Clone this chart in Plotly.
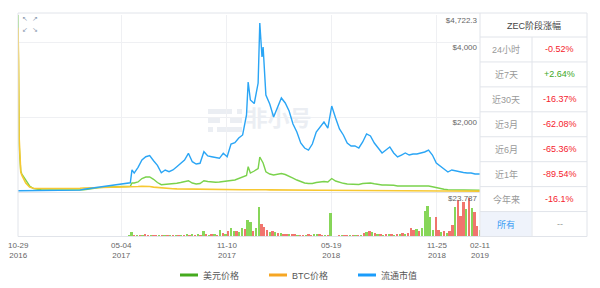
import pandas as pd
import plotly.graph_objects as go

# ---------------- data ----------------
START, END = "2016-10-29", "2019-02-11"

# day offsets (from START) of the line samples
line_days = ([0, 1, 2, 3, 4, 5, 7] + list(range(14, 204, 7)) + [206] + list(range(210, 414, 7))
             + [416, 420, 427, 434, 437, 441, 443] + list(range(448, 834, 7)) + [835])

usd_price = [
    4722.3, 2000, 1300, 1000, 650, 560, 480, 300, 160, 90,
    67, 59, 53, 53, 50, 50, 50, 48, 47, 45,
    48, 55, 62, 70, 90, 110, 118, 125, 125, 128,
    133, 140, 145, 147, 152, 240, 240, 267, 360, 400,
    400, 339, 253, 195, 200, 213, 227, 232, 253, 280,
    301, 240, 213, 227, 301, 280, 267, 259, 267, 275,
    293, 307, 320, 360, 387, 440, 675, 507, 560, 627,
    933, 800, 773, 540, 480, 453, 467, 493, 467, 427,
    373, 320, 280, 240, 227, 227, 253, 267, 280, 267,
    360, 293, 253, 232, 213, 205, 205, 200, 227, 240,
    240, 219, 200, 187, 187, 192, 179, 160, 160, 165,
    160, 160, 160, 160, 160, 160, 141, 112, 85, 72,
    59, 59, 53, 53, 52, 50, 50, 48, 48, 48,
]

btc_price = [
    3.71, 2.98, 1.24, 0.95, 0.54, 0.45, 0.38, 0.20, 0.11, 0.085,
    0.08, 0.08, 0.078, 0.075, 0.075, 0.072, 0.07, 0.07, 0.072, 0.075,
    0.08, 0.085, 0.09, 0.095, 0.10, 0.105, 0.107, 0.108, 0.108, 0.108,
    0.11, 0.11, 0.11, 0.11, 0.11, 0.12, 0.12, 0.125, 0.13, 0.13,
    0.125, 0.11, 0.10, 0.09, 0.085, 0.08, 0.075, 0.07, 0.068, 0.065,
    0.062, 0.06, 0.058, 0.056, 0.055, 0.054, 0.053, 0.052, 0.05, 0.05,
    0.05, 0.05, 0.05, 0.05, 0.05, 0.052, 0.053, 0.05, 0.05, 0.052,
    0.056, 0.054, 0.054, 0.05, 0.048, 0.046, 0.046, 0.047, 0.046, 0.045,
    0.044, 0.043, 0.042, 0.042, 0.041, 0.041, 0.041, 0.04, 0.04, 0.04,
    0.041, 0.04, 0.039, 0.038, 0.037, 0.036, 0.035, 0.035, 0.035, 0.034,
    0.034, 0.033, 0.032, 0.031, 0.031, 0.03, 0.03, 0.03, 0.029, 0.029,
    0.029, 0.028, 0.028, 0.028, 0.028, 0.028, 0.027, 0.026, 0.025, 0.024,
    0.023, 0.022, 0.022, 0.021, 0.021, 0.02, 0.02, 0.02, 0.02, 0.02,
]

market_cap = [  # USD million
    20, 20, 20, 21, 21, 21, 22, 22, 23, 23,
    23, 24, 24, 24, 25, 25, 25, 26, 27, 28,
    29, 30, 43, 51, 63, 76, 82, 90, 95, 103,
    111, 122, 130, 138, 146, 350, 300, 391, 506, 558,
    575, 495, 422, 305, 348, 321, 348, 400, 454, 506,
    612, 479, 443, 454, 638, 570, 558, 549, 533, 612,
    558, 760, 780, 854, 902, 1218, 1740, 1455, 1400, 1724,
    2674, 2136, 2294, 1535, 1392, 1187, 1329, 1487, 1408, 1281,
    1076, 949, 775, 696, 664, 759, 949, 1028, 1107, 1012,
    1360, 1171, 997, 902, 775, 728, 728, 696, 791, 918,
    886, 775, 696, 617, 664, 712, 617, 554, 585, 617,
    585, 601, 601, 617, 633, 664, 585, 459, 411, 364,
    316, 348, 332, 316, 308, 301, 301, 285, 285, 285,
]

vol_step_days = 5
volume = [
    0.15, 0.1, 0.08, 0.1, 0.08, 0.07, 0.08, 0.06, 0.07, 0.06,
    0.06, 0.05, 0.06, 0.05, 0.06, 0.05, 0.06, 0.07, 0.06, 0.08,
    0.1, 0.12, 0.1, 0.15, 0.2, 0.25, 0.3, 0.4, 0.35, 0.5,
    0.3, 0.4, 0.35, 0.3, 0.4, 0.45, 0.35, 0.5, 0.4, 0.45,
    0.6, 2.7, 1.2, 1.0, 1.3, 1.1, 1.4, 1.2, 0.9, 1.1,
    0.9, 0.8, 1.0, 0.9, 0.8, 1.0, 0.9, 1.2, 1.1, 1.3,
    1.0, 1.8, 1.2, 1.4, 1.3, 1.5, 1.2, 3.3, 1.5, 1.3,
    1.4, 1.6, 1.3, 4.0, 2.0, 1.8, 3.1, 4.6, 3.5, 3.1,
    2.8, 5.0, 4.2, 9.0, 8.2, 3.5, 4.6, 16.1, 6.8, 5.5,
    4.0, 2.7, 3.3, 2.7, 2.4, 2.2, 1.8, 1.6, 1.5, 1.4,
    1.5, 1.3, 1.2, 1.3, 1.2, 1.4, 1.2, 1.5, 1.8, 1.4,
    1.2, 1.3, 1.1, 12.8, 0, 0, 1.0, 1.1, 1.0, 1.2,
    0.9, 1.1, 1.0, 1.2, 1.3, 2.2, 2.8, 3.3, 2.5, 2.0,
    1.8, 1.5, 1.3, 1.5, 1.4, 1.6, 1.3, 1.5, 1.7, 2.2,
    1.8, 2.0, 4.8, 4.0, 4.2, 3.5, 5.0, 14.3, 16.5, 11.0,
    4.0, 10.6, 3.7, 2.5, 3.0, 2.2, 3.5, 6.5, 16.0, 20.0,
    11.5, 19.0, 15.0, 21.0, 15.5, 13.5, 6.0, 4.0,
]
# g = up day, r = down day
vol_dir = ("rgrrgrgrrg" "rgrgrrgrgr" "grgggrggrg" "rggrggrgrg" "ggrgrgrrgr"
           "rgrgrgrgrg" "rgrgrgrgrg" "rgrgrgrggr" "ggrggrggrr" "rgrgrgrrgr"
           "rgrrgrrggr" "rgrgrrrgrr" "grgrgrgrgr" "grgrgrgrgr" "grrrgrgggg"
           "grrgrgrrgr" "rrgrgrrg")

x_ticks = ["2016-10-29", "2017-05-04", "2017-11-10", "2018-05-19", "2018-11-25", "2019-02-11"]
x_tick_text = ["10-29<br>2016", "05-04<br>2017", "11-10<br>2017", "05-19<br>2018",
               "11-25<br>2018", "02-11<br>2019"]
price_ticks = [2000, 4000, 4722.3]
price_tick_text = ["$2,000", "$4,000", "$4,722.3"]
price_max = 4722.3
btc_axis_max = 4.0
cap_axis_max = 2800
vol_max = 23.787
vol_tick_text = "$23.787"

table_title = "ZEC阶段涨幅"
periods = ["24小时", "近7天", "近30天", "近3月", "近6月", "近1年", "今年来", "所有"]
changes = ["-0.52%", "+2.64%", "-16.37%", "-62.08%", "-65.36%", "-89.54%", "-16.1%", "--"]
legend_names = ["美元价格", "BTC价格", "流通市值"]

# ---------------- styling / geometry ----------------
W, H = 600, 288
FONT = "Arial, 'Liberation Sans', 'Noto Sans CJK SC', sans-serif"
CJK = "'Noto Sans CJK SC', sans-serif"
GREEN, YELLOW, BLUE = "#7ad24c", "#f7c832", "#2aa5f5"
LEG_COLORS = ["#45aa1e", "#f6a623", "#1a9cfb"]
BAR_UP, BAR_DOWN = "#72cf3c", "#ef5d55"
GRID = "#eff0f3"
BORDER = "#e1e4ea"

PLOT_L, PLOT_R = 18, 480
MAIN_T, MAIN_B = 15, 192
VOL_T, VOL_B = 192.5, 236.5
FRAME_T = 13
TAB_L, TAB_M, TAB_R = 480, 532, 587
HEAD_B = 37
XLABEL_TOP = 238.5


def px(x):
    return x / W


def py(y):
    return 1 - y / H


start = pd.Timestamp(START)
end = pd.Timestamp(END)
x_range = [start, end]
line_dates = start + pd.to_timedelta(line_days, unit="D")
vol_dates = pd.date_range(START, periods=len(volume), freq=f"{vol_step_days}D")
bar_colors = [BAR_UP if c == "g" else BAR_DOWN for c in vol_dir]

# watermark placement (pixel -> axis units)
wm_x, wm_y = 278.5, 120
wm_date = start + (end - start) * ((wm_x - PLOT_L) / (PLOT_R - PLOT_L))
wm_val = price_max * (MAIN_B - wm_y) / (MAIN_B - MAIN_T)

fig = go.Figure()
fig.add_trace(go.Scatter(x=[wm_date], y=[wm_val], mode="text", text=["非小号"],
                         textfont=dict(size=22, color="#ebeef3", family=CJK, weight="bold"),
                         hoverinfo="skip", showlegend=False, xaxis="x", yaxis="y"))
fig.add_trace(go.Scatter(x=line_dates, y=usd_price, mode="lines", name=legend_names[0],
                         line=dict(color=GREEN, width=1.4), xaxis="x", yaxis="y", showlegend=False))
fig.add_trace(go.Scatter(x=line_dates, y=btc_price, mode="lines", name=legend_names[1],
                         line=dict(color=YELLOW, width=1.6), xaxis="x", yaxis="y2", showlegend=False))
fig.add_trace(go.Scatter(x=line_dates, y=market_cap, mode="lines", name=legend_names[2],
                         line=dict(color=BLUE, width=1.4), xaxis="x", yaxis="y3", showlegend=False))
fig.add_trace(go.Bar(x=vol_dates, y=volume, marker=dict(color=bar_colors, line=dict(width=0)),
                     opacity=0.85, width=4.2 * 86400000, xaxis="x2", yaxis="y4", showlegend=False))

tickfont = dict(size=8, color="#666", family=FONT)
fig.update_layout(
    width=W, height=H, margin=dict(l=0, r=0, t=0, b=0),
    paper_bgcolor="white", plot_bgcolor="white", hovermode=False,
    font=dict(family=FONT, size=9, color="#666"),
    bargap=0,
    xaxis=dict(domain=[px(PLOT_L), px(PLOT_R)], anchor="y", type="date", range=x_range,
               autorange=False, tickvals=x_ticks, showticklabels=False, showgrid=True,
               gridcolor=GRID, showline=True, linecolor="#e3e4e8", linewidth=1,
               zeroline=False, ticks="", automargin=False),
    xaxis2=dict(domain=[px(PLOT_L), px(PLOT_R)], anchor="y4", type="date", range=x_range,
                autorange=False, tickvals=x_ticks, showticklabels=False,
                showgrid=True, gridcolor=GRID, showline=False, zeroline=False, ticks="",
                automargin=False),
    yaxis=dict(domain=[py(MAIN_B), py(MAIN_T)], anchor="x", side="right", range=[0, price_max],
               autorange=False, tickvals=price_ticks, ticktext=price_tick_text,
               ticklabelposition="inside bottom", tickfont=tickfont, showgrid=True,
               gridcolor=GRID, zeroline=False, showline=False, ticks="", automargin=False),
    yaxis2=dict(overlaying="y", anchor="x", range=[0, btc_axis_max], autorange=False,
                visible=False),
    yaxis3=dict(overlaying="y", anchor="x", range=[0, cap_axis_max], autorange=False,
                visible=False),
    yaxis4=dict(domain=[py(VOL_B), py(VOL_T)], anchor="x2", side="right", range=[0, vol_max],
                autorange=False, tickvals=[vol_max], ticktext=[vol_tick_text],
                ticklabelposition="inside bottom", tickfont=tickfont, showgrid=False,
                zeroline=False, showline=False, ticks="", automargin=False),
)

shapes = []
annotations = []


def hline(y, x0, x1, color=BORDER):
    shapes.append(dict(type="line", xref="paper", yref="paper", x0=px(x0), x1=px(x1),
                       y0=py(y), y1=py(y), line=dict(color=color, width=1)))


def vline(x, y0, y1, color=BORDER):
    shapes.append(dict(type="line", xref="paper", yref="paper", x0=px(x), x1=px(x),
                       y0=py(y0), y1=py(y1), line=dict(color=color, width=1)))


def text(x, y, s, size=9, color="#666", anchor="center", family=FONT):
    annotations.append(dict(xref="paper", yref="paper", x=px(x), y=py(y), text=s,
                            xanchor=anchor, yanchor="middle", showarrow=False,
                            font=dict(size=size, color=color, family=family)))


# date tick labels, placed on the bottom date axis scale
for tv, tt in zip(x_ticks, x_tick_text):
    annotations.append(dict(xref="x2", yref="paper", x=tv, y=py(XLABEL_TOP), text=tt,
                            xanchor="center", yanchor="top", showarrow=False,
                            font=tickfont))

# watermark logo pills (beneath the traces)
for (x0, y0, x1, y1) in [(208, 109, 232, 114), (237, 109, 242, 114), (208, 118, 220, 123),
                         (230, 118, 242, 123), (208, 127, 213, 132), (217, 127, 242, 132)]:
    shapes.append(dict(type="rect", xref="paper", yref="paper", x0=px(x0), x1=px(x1),
                       y0=py(y1), y1=py(y0), fillcolor="#ebeef3", line=dict(width=0),
                       layer="below"))

# outer frame
shapes.append(dict(type="rect", xref="paper", yref="paper", x0=px(PLOT_L), x1=px(TAB_R),
                   y0=py(VOL_B), y1=py(FRAME_T), line=dict(color=BORDER, width=1)))

# table
row_h = (VOL_B - HEAD_B) / len(periods)
shapes.append(dict(type="rect", xref="paper", yref="paper", x0=px(TAB_L + 0.5), x1=px(TAB_M - 0.5),
                   y0=py(VOL_B - 0.5), y1=py(HEAD_B + row_h * (len(periods) - 1) + 0.5),
                   fillcolor="#eff3fb", line=dict(width=0)))
vline(TAB_L, FRAME_T, VOL_B)
vline(TAB_M, HEAD_B, VOL_B)
for i in range(len(periods)):
    hline(HEAD_B + i * row_h, TAB_L, TAB_R)

text((TAB_L + TAB_R) / 2, (FRAME_T + HEAD_B) / 2, table_title, color="#444")
for i, (p, c) in enumerate(zip(periods, changes)):
    yc = HEAD_B + (i + 0.5) * row_h
    last = (i == len(periods) - 1)
    text((TAB_L + TAB_M) / 2, yc, p, color="#3b9cf4" if last else "#999")
    if c.startswith("-") and c != "--":
        col = "#f5222d"
    elif c.startswith("+"):
        col = "#3ca81e"
    else:
        col = "#999"
    text((TAB_M + TAB_R) / 2, yc, c, color=col)

# zoom icons
for (ix, iy, t) in [(24.5, 19, "↖"), (34.5, 19, "↗"), (24.5, 29.5, "↙"), (34.5, 29.5, "↘")]:
    text(ix, iy, t, size=7, color="#8b9ab0", family="DejaVu Sans")

# legend
leg_y = 275
for (sx, name, col) in zip([180, 269, 358], legend_names, LEG_COLORS):
    shapes.append(dict(type="line", xref="paper", yref="paper", x0=px(sx), x1=px(sx + 18),
                       y0=py(leg_y), y1=py(leg_y), line=dict(color=col, width=3)))
    text(sx + 21, leg_y, name, color="#555", anchor="left")

fig.update_layout(shapes=shapes, annotations=annotations)
fig.write_html("out.html")
